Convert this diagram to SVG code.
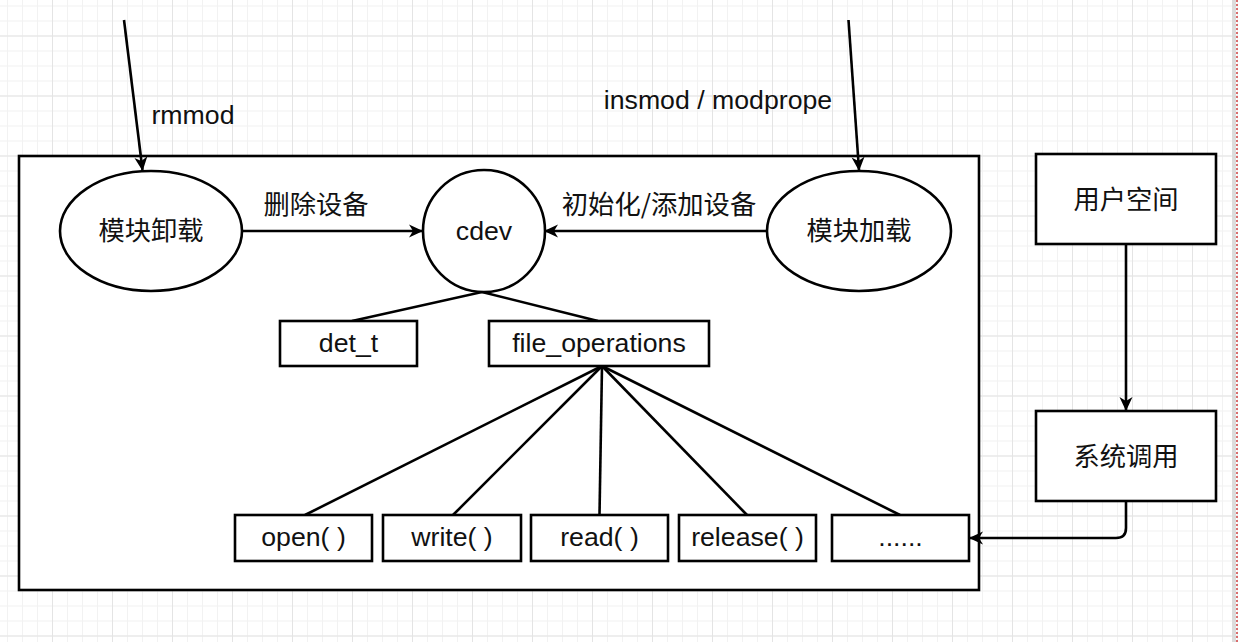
<svg xmlns="http://www.w3.org/2000/svg" width="1238" height="642" viewBox="0 0 1238 642">
  <style>
    .box { fill: #fff; stroke: #000; stroke-width: 2.6; }
    .ln { fill: none; stroke: #000; stroke-width: 2.6; }
    .t { font-family: "Liberation Sans", Arial, "Noto Sans CJK SC", sans-serif; font-size: 26.7px; fill: #111; text-anchor: middle; }
    .c { font-family: "Noto Sans CJK SC", "Liberation Sans", sans-serif; font-size: 26.3px; fill: #111; text-anchor: middle; }
  </style>
  <defs>
    <pattern id="minor" width="15" height="15" patternUnits="userSpaceOnUse">
      <rect x="7" y="0" width="1" height="15" fill="#f2f2f2"/>
      <rect x="0" y="5.5" width="15" height="1" fill="#f2f2f2"/>
    </pattern>
    <pattern id="major" width="60" height="60" patternUnits="userSpaceOnUse">
      <rect x="52" y="0" width="1" height="60" fill="#e4e4e4"/>
      <rect x="0" y="35.5" width="60" height="1" fill="#e4e4e4"/>
    </pattern>
    <marker id="arr" viewBox="0 0 14 14" markerWidth="14" markerHeight="14" refX="13" refY="7" orient="auto" markerUnits="userSpaceOnUse">
      <path d="M0,0.5 L14,7 L0,13.5 L4,7 Z" fill="#000"/>
    </marker>
  </defs>

  <rect width="1238" height="642" fill="#fff"/>
  <rect width="1238" height="642" fill="url(#minor)"/>
  <rect width="1238" height="642" fill="url(#major)"/>
  <rect x="1232" y="0" width="4" height="642" fill="#dcdcdc"/>
  <line x1="1237" y1="0" x2="1237" y2="642" stroke="#d04040" stroke-width="1.5" stroke-dasharray="2,2"/>

  <g id="container">
    <rect class="box" x="19" y="156" width="960" height="434"/>
  </g>

  <g id="connectors">
    <line class="ln" x1="124" y1="20" x2="142.5" y2="170" marker-end="url(#arr)"/>
    <line class="ln" x1="848.5" y1="20" x2="859" y2="170" marker-end="url(#arr)"/>
    <line class="ln" x1="242" y1="231" x2="422" y2="231" marker-end="url(#arr)"/>
    <line class="ln" x1="767" y1="231" x2="545" y2="231" marker-end="url(#arr)"/>
    <polyline class="ln" points="352,321 482,292 598,321"/>
    <line class="ln" x1="602" y1="366" x2="305" y2="515"/>
    <line class="ln" x1="602" y1="366" x2="453" y2="515"/>
    <line class="ln" x1="602" y1="366" x2="599.5" y2="515"/>
    <line class="ln" x1="602" y1="366" x2="747" y2="515"/>
    <line class="ln" x1="602" y1="366" x2="900" y2="515"/>
    <line class="ln" x1="1126" y1="244" x2="1126" y2="410" marker-end="url(#arr)"/>
    <path class="ln" d="M1126,501 V528 Q1126,538 1116,538 H970" marker-end="url(#arr)"/>
  </g>

  <g id="labels">
    <text class="t" x="193" y="124">rmmod</text>
    <text class="t" x="718" y="109">insmod / modprope</text>
    <text class="c" x="316" y="214">删除设备</text>
    <text class="c" x="659" y="214">初始化/添加设备</text>
  </g>

  <g id="node-unload">
    <ellipse class="box" cx="151" cy="231" rx="91" ry="60"/>
    <text class="c" x="151" y="239.5">模块卸载</text>
  </g>
  <g id="node-cdev">
    <circle class="box" cx="484" cy="231" r="61"/>
    <text class="t" x="484" y="240">cdev</text>
  </g>
  <g id="node-load">
    <ellipse class="box" cx="859" cy="231" rx="92" ry="60"/>
    <text class="c" x="859" y="239.5">模块加载</text>
  </g>
  <g id="node-det">
    <rect class="box" x="280" y="321" width="137" height="45"/>
    <text class="t" x="348.5" y="352">det_t</text>
  </g>
  <g id="node-fops">
    <rect class="box" x="489" y="321" width="220" height="45"/>
    <text class="t" x="599" y="352">file_operations</text>
  </g>
  <g id="node-open">
    <rect class="box" x="235" y="515" width="137" height="46"/>
    <text class="t" x="303.5" y="546">open( )</text>
  </g>
  <g id="node-write">
    <rect class="box" x="383" y="515" width="138" height="46"/>
    <text class="t" x="452" y="546">write( )</text>
  </g>
  <g id="node-read">
    <rect class="box" x="531" y="515" width="137" height="46"/>
    <text class="t" x="599.5" y="546">read( )</text>
  </g>
  <g id="node-release">
    <rect class="box" x="679" y="515" width="137" height="46"/>
    <text class="t" x="747.5" y="546">release( )</text>
  </g>
  <g id="node-more">
    <rect class="box" x="832" y="515" width="137" height="46"/>
    <text class="t" x="900.5" y="546">......</text>
  </g>
  <g id="node-userspace">
    <rect class="box" x="1036" y="154" width="180" height="90"/>
    <text class="c" x="1126" y="208.5">用户空间</text>
  </g>
  <g id="node-syscall">
    <rect class="box" x="1036" y="411" width="180" height="90"/>
    <text class="c" x="1126" y="465.5">系统调用</text>
  </g>
</svg>
